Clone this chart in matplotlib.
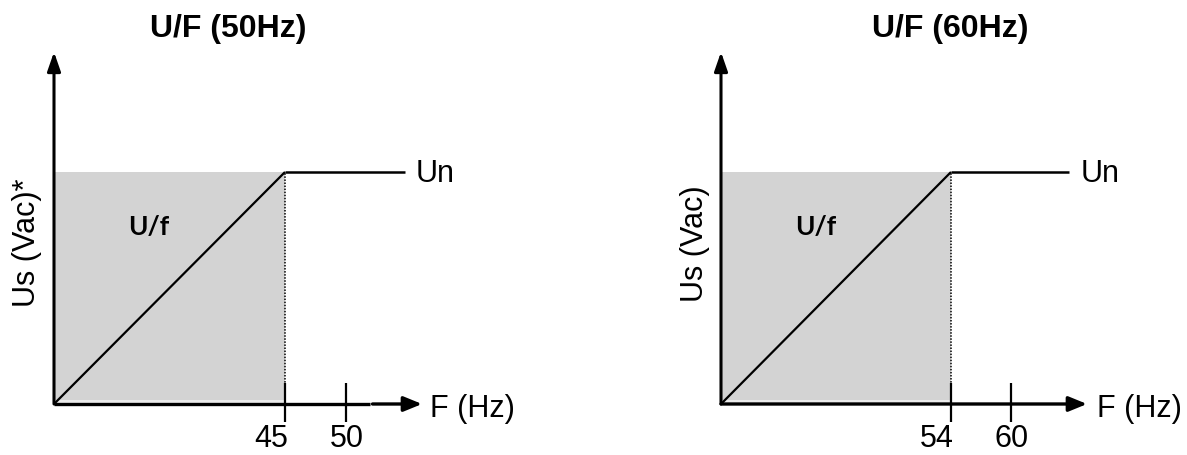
import numpy as np
import matplotlib
matplotlib.use("Agg")
import matplotlib.pyplot as plt

# ---------------- data ----------------
titles = ["U/F (50Hz)", "U/F (60Hz)"]
ylabels = ["Us (Vac)*", "Us (Vac)"]
knee_freqs = [45, 54]          # end of the U/f ramp (Hz)
nominal_freqs = [50, 60]       # nominal frequency (Hz)
tick_labels = [["45", "50"], ["54", "60"]]
un_level = 1.0                 # normalised nominal voltage Un
curve_label = "U/f"
un_label = "Un"
xaxis_label = "F (Hz)"

# ---------------- layout (pixels) ----------------
W, H = 1187, 455
DPI = 100
AX_X0 = [54, 721]
AX_W = [368, 366]
AX_BOTTOM_Y = 404
AX_TOP_Y = 52
UN_PX = 232
KNEE_PX = [231, 230]
NOM_PX = [292, 290]
UN_END_PX = [351, 348]
UN_TEXT_PX = [362, 360]
F_TEXT_PX = [376, 376]
UF_TEXT_PX = [(95, 227), (95, 227)]
TITLE_PX = [(228, 29), (950, 29)]
YLAB_PX = [(27, 243), (695, 244)]
GAP = [(316, 318.5), None]

REG = "Liberation Sans"
GRAY = "#d3d3d3"

fig = plt.figure(figsize=(W / DPI, H / DPI), dpi=DPI)


def make_scale(knee, nom, kp, npx):
    slope = (npx - kp) / (nom - knee)
    fx = [0, knee, nom, nom + 1000]
    px = [0, kp, npx, npx + 1000 * slope]

    def fwd(f):
        return np.interp(f, fx, px)

    def inv(p):
        return np.interp(p, px, fx)

    return fwd, inv


for i in range(2):
    knee, nom = knee_freqs[i], nominal_freqs[i]
    fwd, inv = make_scale(knee, nom, KNEE_PX[i], NOM_PX[i])
    ax_h = AX_BOTTOM_Y - AX_TOP_Y
    ax = fig.add_axes([AX_X0[i] / W, (H - AX_BOTTOM_Y) / H, AX_W[i] / W, ax_h / H])
    ax.set_xscale("function", functions=(fwd, inv))
    ax.set_xlim(0, inv(AX_W[i]))
    ax.set_ylim(0, un_level * ax_h / UN_PX)
    ax.axis("off")
    upp = un_level / UN_PX  # data units per pixel in y

    # shaded U/f region
    ax.fill_between([0, knee], 0, 4 * upp, color="#ebebeb", lw=0, zorder=1)
    ax.fill_between([0, knee], 4 * upp, un_level, color=GRAY, lw=0, zorder=1)
    # ramp and constant Un
    ax.plot([0, knee], [0, un_level], color="black", lw=1.6, zorder=3,
            solid_capstyle="butt")
    ax.plot([knee, inv(UN_END_PX[i])], [un_level, un_level], color="black",
            lw=1.8, zorder=3, solid_capstyle="butt")
    # dotted knee line
    ax.plot([knee, knee], [0, un_level], color="black", lw=1.1,
            ls=(0, (1, 1)), zorder=2)

    # axes arrows
    ax.annotate("", xy=(0, 1), xytext=(0, 0), xycoords="axes fraction",
                arrowprops=dict(arrowstyle="-|>,head_length=1.15,head_width=0.4",
                                mutation_scale=10, lw=2.2, color="black",
                                shrinkA=0, shrinkB=0), zorder=4)
    if GAP[i] is not None:
        g0, g1 = GAP[i]
        ax.plot([0, g0 / AX_W[i]], [0, 0], transform=ax.transAxes,
                color="black", lw=2.4, clip_on=False, zorder=4,
                solid_capstyle="butt")
        start = g1 / AX_W[i]
    else:
        start = 0
    ax.annotate("", xy=(1, 0), xytext=(start, 0), xycoords="axes fraction",
                arrowprops=dict(arrowstyle="-|>,head_length=1.1,head_width=0.45",
                                mutation_scale=10, lw=2.4, color="black",
                                shrinkA=0, shrinkB=0), zorder=4)

    # tick marks
    for f in (knee, nom):
        ax.plot([f, f], [-18 * upp, 21 * upp], color="black", lw=1.6,
                clip_on=False, zorder=5, solid_capstyle="butt")
    # tick labels
    offs = [-14, 1]
    for f, lab, o in zip((knee, nom), tick_labels[i], offs):
        ax.annotate(lab, xy=(f, 0), xytext=(o * 72 / DPI, -43 * 72 / DPI),
                    textcoords="offset points", ha="center", va="baseline",
                    fontsize=22, family=REG)

    # labels
    ax.annotate(un_label, xy=(inv(UN_TEXT_PX[i]), un_level),
                xytext=(0, -10 * 72 / DPI), textcoords="offset points",
                ha="left", va="baseline", fontsize=22, family=REG)
    ax.annotate(xaxis_label, xy=(inv(F_TEXT_PX[i]), 0),
                xytext=(0, -13 * 72 / DPI), textcoords="offset points",
                ha="left", va="baseline", fontsize=22, family=REG,
                annotation_clip=False)
    ux, uy = UF_TEXT_PX[i]
    ax.text(inv(ux), (AX_BOTTOM_Y - uy) * upp, curve_label, ha="center",
            va="center", fontsize=19, family="Lato", fontweight="bold")

    tx, ty = TITLE_PX[i]
    fig.text(tx / W, 1 - ty / H, titles[i], ha="center", va="center",
             fontsize=23, family=REG, fontweight="bold")
    lx, ly = YLAB_PX[i]
    fig.text(lx / W, 1 - ly / H, ylabels[i], ha="center", va="center",
             rotation=90, fontsize=22, family=REG)

fig.savefig("out.png", dpi=DPI)
